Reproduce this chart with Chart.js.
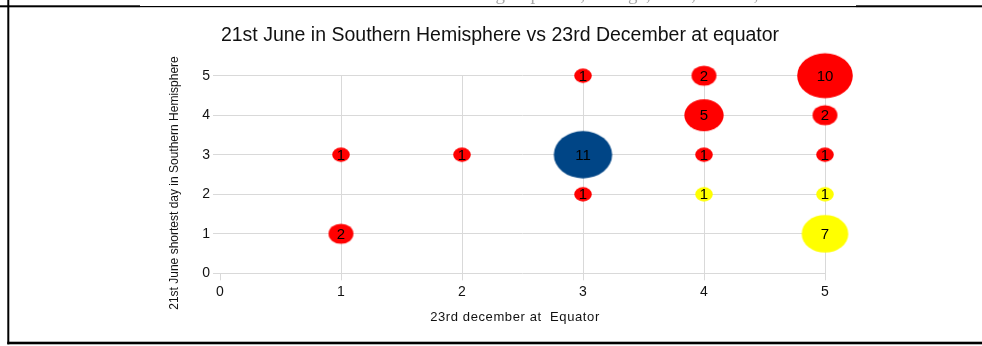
<!DOCTYPE html>
<html>
<head>
<meta charset="utf-8">
<script src="https://cdn.jsdelivr.net/npm/chart.js@4/dist/chart.umd.min.js"></script>
<style>
  html, body { margin: 0; padding: 0; background: #fff; }
  #wrap { position: relative; width: 982px; height: 346px; }
</style>
</head>
<body>
<div id="wrap"><canvas id="c" width="982" height="346"></canvas></div>
<script>
// Axis ticks
const xTicks = [0, 1, 2, 3, 4, 5];
const yTicks = [0, 1, 2, 3, 4, 5];

// Red group: x = 23rd December at equator, y = 21st June, n = number of answers
const redX = [1, 1, 2, 3, 3, 4, 4, 4, 5, 5, 5];
const redY = [3, 1, 3, 5, 2, 5, 4, 3, 5, 4, 3];
const redN = [1, 2, 1, 1, 1, 2, 5, 1, 10, 2, 1];

// Blue group
const blueX = [3];
const blueY = [3];
const blueN = [11];

// Yellow group
const yellowX = [4, 5, 5];
const yellowY = [2, 2, 1];
const yellowN = [1, 1, 7];

const titleText = '21st June in Southern Hemisphere vs 23rd December at equator';
const xTitle = '23rd december at  Equator';
const yTitle = '21st June shortest day in Southern Hemisphere';
const headerText = 'These were then sorted into each colour group: Red, Orange, Blue, Yellow, Green';

// Bubble area grows with the count; bubbles are drawn slightly wider than tall
const BUBBLE_SCALE = 17.6;
const BUBBLE_ASPECT = 0.81;
function bubbleWidth(n) { return BUBBLE_SCALE * Math.sqrt(n); }

function toPoints(xs, ys, ns) {
  return xs.map((x, i) => ({ x: x, y: ys[i], n: ns[i], r: bubbleWidth(ns[i]) / 2 }));
}

// Ellipse sprites used as point styles
const spriteCache = {};
function ellipseSprite(n, color) {
  const key = n + '|' + color;
  if (spriteCache[key]) return spriteCache[key];
  const w = bubbleWidth(n);
  const h = w * BUBBLE_ASPECT;
  const cv = document.createElement('canvas');
  cv.width = Math.ceil(w) + 2;
  cv.height = Math.ceil(h) + 2;
  const g = cv.getContext('2d');
  g.fillStyle = color;
  g.beginPath();
  g.ellipse(cv.width / 2, cv.height / 2, w / 2, h / 2, 0, 0, Math.PI * 2);
  g.fill();
  spriteCache[key] = cv;
  return cv;
}

function makeDataset(label, xs, ys, ns, color) {
  return {
    label: label,
    data: toPoints(xs, ys, ns),
    backgroundColor: color,
    borderWidth: 0,
    clip: false,
    pointStyle: (ctx) => ctx.raw ? ellipseSprite(ctx.raw.n, color) : 'circle'
  };
}

const GRID = '#d9d9d9';
const PAD_LEFT = 100;
const SANS = '"Liberation Sans", Arial, sans-serif';

// Frame lines, header, titles and the count written inside each bubble
const decorations = {
  id: 'decorations',
  afterDatasetsDraw(chart) {
    const ctx = chart.ctx;
    ctx.save();
    ctx.fillStyle = '#000';
    ctx.font = '15px ' + SANS;
    ctx.textAlign = 'center';
    ctx.textBaseline = 'middle';
    chart.data.datasets.forEach((ds, i) => {
      const meta = chart.getDatasetMeta(i);
      meta.data.forEach((el, j) => {
        ctx.fillText(String(ds.data[j].n), el.x, el.y + 1);
      });
    });
    ctx.restore();
  },
  afterDraw(chart) {
    const ctx = chart.ctx;
    ctx.save();
    // header line of the page above the chart frame
    ctx.fillStyle = '#a8a8a8';
    ctx.font = '19px "Liberation Serif", "Times New Roman", serif';
    ctx.textAlign = 'left';
    ctx.textBaseline = 'alphabetic';
    ctx.fillText(headerText, 188, -0.5);

    ctx.fillStyle = '#000';
    ctx.fillRect(0, 5.3, 140, 2);
    ctx.fillRect(140, 6, 716, 1.2);
    ctx.fillRect(856, 5.3, 126, 2);
    ctx.fillRect(7.3, 0, 2, 344.3);
    ctx.fillRect(7.3, 341.7, 982, 2.6);

    // chart title
    ctx.fillStyle = '#111';
    ctx.font = '19.5px ' + SANS;
    ctx.textAlign = 'center';
    ctx.fillText(titleText, 500, 40.5);

    // axis titles
    ctx.font = '13px ' + SANS;
    ctx.letterSpacing = '0.6px';
    ctx.textBaseline = 'middle';
    ctx.fillText(xTitle, 515, 317);
    ctx.letterSpacing = '0px';
    ctx.font = '12px ' + SANS;
    ctx.translate(175, 183);
    ctx.rotate(-Math.PI / 2);
    ctx.fillText(yTitle, 0, 0);
    ctx.restore();
  }
};

const tickFont = { family: SANS, size: 14 };

new Chart(document.getElementById('c'), {
  type: 'bubble',
  data: {
    datasets: [
      makeDataset('Red', redX, redY, redN, '#ff0000'),
      makeDataset('Blue', blueX, blueY, blueN, '#004586'),
      makeDataset('Yellow', yellowX, yellowY, yellowN, '#ffff00')
    ]
  },
  options: {
    responsive: false,
    animation: false,
    events: [],
    layout: { padding: { left: PAD_LEFT, right: 157, top: 75.7, bottom: 0 } },
    plugins: {
      legend: { display: false },
      title: { display: false },
      tooltip: { enabled: false }
    },
    scales: {
      x: {
        type: 'linear',
        min: xTicks[0],
        max: xTicks[xTicks.length - 1],
        afterBuildTicks: (s) => { s.ticks = xTicks.map(v => ({ value: v })); },
        afterFit: (s) => { s.height = 72.7; },
        ticks: { color: '#111', font: tickFont, padding: 3, maxRotation: 0 },
        grid: {
          color: (c) => (c.tick && c.tick.value === 0) ? 'rgba(0,0,0,0)' : GRID,
          tickColor: GRID,
          tickLength: 7,
          lineWidth: 1
        },
        border: { display: false }
      },
      y: {
        type: 'linear',
        min: yTicks[0],
        max: yTicks[yTicks.length - 1],
        afterBuildTicks: (s) => { s.ticks = yTicks.map(v => ({ value: v })); },
        afterFit: (s) => { s.width = 220 - PAD_LEFT; },
        ticks: { color: '#111', font: tickFont, padding: 3 },
        grid: { color: GRID, tickColor: GRID, tickLength: 7, lineWidth: 1 },
        border: { display: false }
      }
    }
  },
  plugins: [decorations]
});
</script>
</body>
</html>
